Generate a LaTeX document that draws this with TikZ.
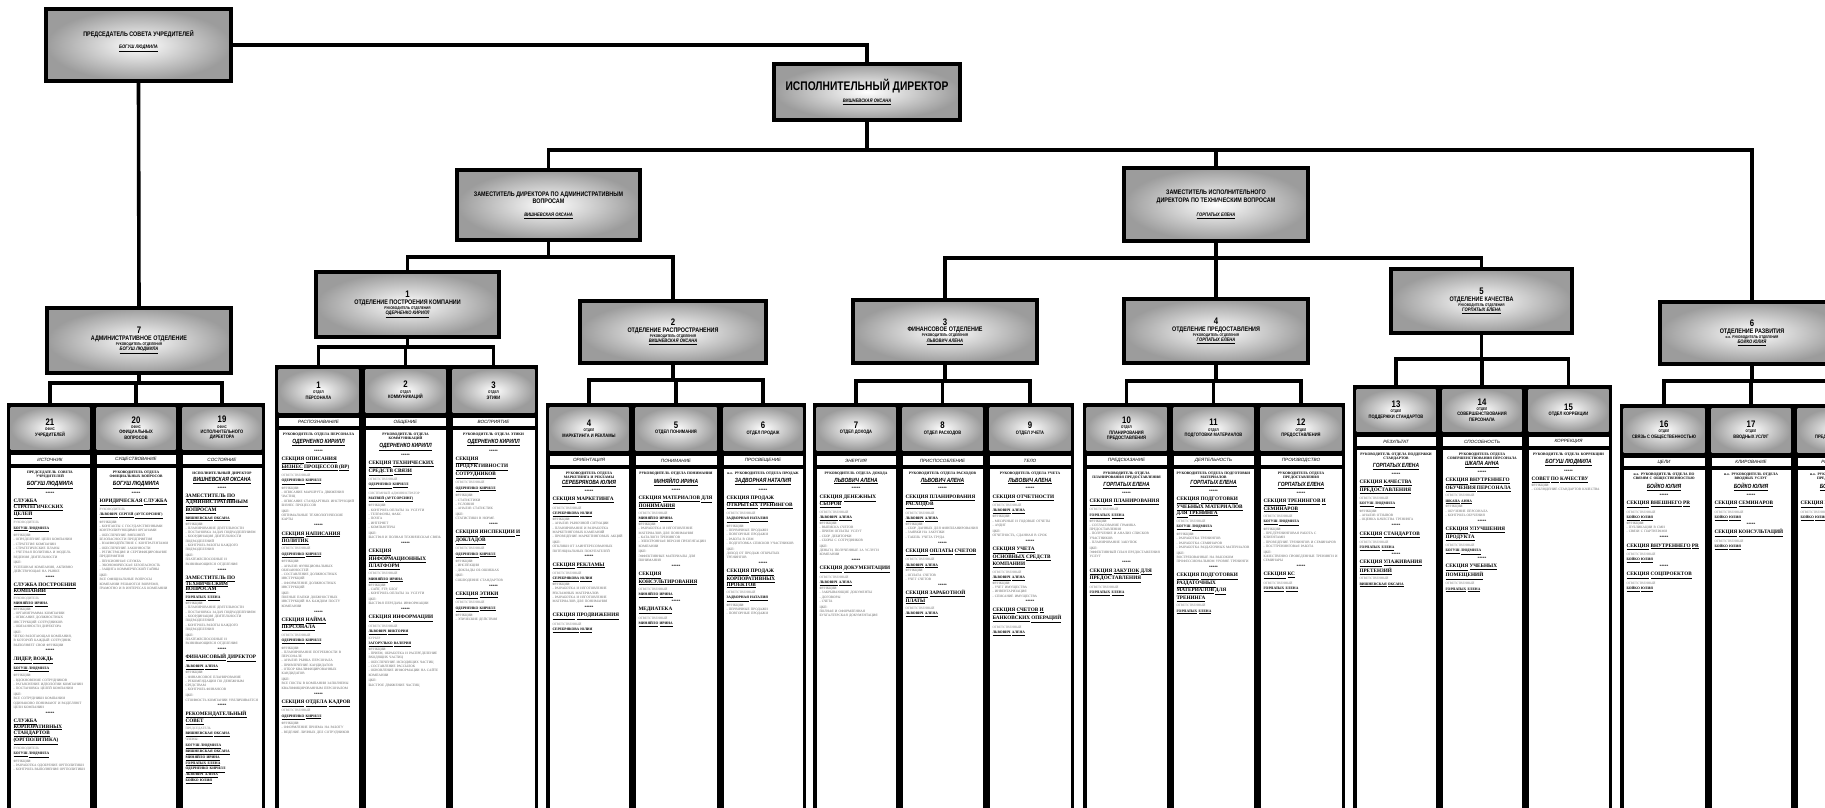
\documentclass[tikz,border=0pt]{standalone}
\usepackage{fontspec}
\setmainfont{Liberation Serif}
\newfontfamily\hdfont[FakeStretch=0.82]{Liberation Sans}
\newfontfamily\lbfont{Liberation Sans}
\usetikzlibrary{calc}

\tikzstyle{bevel} = [rectangle, inner sep=0pt, align=center, inner color=white, outer color=gray!78, font=\hdfont\bfseries\fontsize{4.5}{5.4}\selectfont]
\tikzstyle{boss} = [bevel, draw=black, line width=4.4pt]
\tikzstyle{conn} = [line width=3.6pt, line join=miter]
\tikzstyle{striptext} = [inner sep=0pt, font=\lbfont\itshape\fontsize{4.6}{5}\selectfont]
\tikzstyle{bodytext} = [anchor=north, inner sep=0pt, align=left, font=\bfseries\fontsize{3.6}{4.3}\selectfont]

% underline word by word, so that long titles can break
\def\ulend{\ULEND}
\def\ulendmac{\ulend}
\def\uline#1{\ulwa#1 \ulend\relax}
\def\ulwa#1 #2\relax{\underline{#1}\ulnext#2\relax}
\def\ulnext#1\relax{\def\ultmp{#1}\ifx\ultmp\ulendmac\else\ \ulwa#1\relax\fi}

% header texts
\newcommand{\bignum}[1]{{\fontsize{9.5}{10}\selectfont #1}}
\newcommand{\otd}[1]{{\fontsize{3.8}{4.4}\selectfont #1}}
\newcommand{\dtx}[1]{{\fontsize{4.9}{5.6}\selectfont #1}}
\newcommand{\divtxt}[1]{{\fontsize{6.6}{7.6}\selectfont #1}}
\newcommand{\nm}[1]{{\itshape\fontsize{5}{6}\selectfont\underline{#1}}}
% body texts
\newcommand{\bnm}[1]{{\hdfont\itshape\fontsize{6}{6.8}\selectfont\underline{#1}}}
\newcommand{\chief}[2]{{\centering #1\par\vspace{1.5pt}\bnm{#2}\par\vspace{2.5pt}*****\par}}
\newcommand{\sekt}[1]{\vspace{2.5pt}{\fontsize{5.2}{5.8}\selectfont\uline{#1}\par}\vspace{1.5pt}}
\newcommand{\who}[2]{{\mdseries\color{gray}\fontsize{3.3}{4.1}\selectfont #1\par}\vspace{1pt}{\fontsize{3.6}{4.3}\selectfont\uline{#2}\par}\vspace{1.5pt}}
\newcommand{\fn}[1]{{\mdseries\color{gray!80!black}\fontsize{3.4}{4.3}\selectfont #1\par}\vspace{1.5pt}}
\newcommand{\starsep}{{\centering *****\par}}

% one department column: name, left, right, top, head bottom, strip bottom, head, strip, body
\newcommand{\dept}[9]{%
  \pgfmathsetmacro\dw{#3-#2-7}\pgfmathsetmacro\dh{#5-#4-7}\pgfmathsetmacro\tw{#3-#2-13}%
  \fill[black] (#2,#4) rectangle (#3,830);
  \node[bevel, minimum width=\dw pt, minimum height=\dh pt] (#1) at ({(#2+#3)/2},{(#4+#5+1)/2}) {#7};
  \fill[white] ({#2+3.5},{#5+3}) rectangle ({#3-3.5},{#6-2});
  \node[striptext] at ({(#2+#3)/2},{(#5+#6+1)/2}) {#8};
  \fill[white] ({#2+3.5},{#6+1.5}) rectangle ({#3-3.5},830);
  \node[bodytext, text width=\tw pt] at ({(#2+#3)/2},{#6+5}) {#9};
}

\begin{document}
\begin{tikzpicture}[x=1pt, y=-1pt]
\useasboundingbox[fill=white] (0,0) rectangle (1825,808);

% top of the board
\node[boss, minimum width=185pt, minimum height=72pt] (chair) at (138.5,45) {\divtxt{ПРЕДСЕДАТЕЛЬ СОВЕТА УЧРЕДИТЕЛЕЙ}\\[7pt]\nm{БОГУШ ЛЮДМИЛА}\\[6pt]};
\node[boss, minimum width=186pt, minimum height=56pt] (exec) at (867,92) {{\fontsize{12.5}{14}\selectfont ИСПОЛНИТЕЛЬНЫЙ ДИРЕКТОР}\\[5pt]\nm{ВИШНЕВСКАЯ ОКСАНА}};
\node[boss, minimum width=183pt, minimum height=70pt] (dep1) at (548.5,205) {\divtxt{ЗАМЕСТИТЕЛЬ ДИРЕКТОРА ПО АДМИНИСТРАТИВНЫМ}\\\divtxt{ВОПРОСАМ}\\[8pt]\nm{ВИШНЕВСКАЯ ОКСАНА}};
\node[boss, minimum width=184pt, minimum height=73pt] (dep2) at (1216,204.5) {\divtxt{ЗАМЕСТИТЕЛЬ ИСПОЛНИТЕЛЬНОГО}\\[2pt]\divtxt{ДИРЕКТОРА ПО ТЕХНИЧЕСКИМ ВОПРОСАМ}\\[9pt]\nm{ГОРПАТЫХ ЕЛЕНА}};

% divisions
\node[boss, minimum width=184pt, minimum height=65pt] (d7) at (139,340.5) {\bignum{7}\\[1pt]\divtxt{АДМИНИСТРАТИВНОЕ ОТДЕЛЕНИЕ}\\\otd{РУКОВОДИТЕЛЬ ОТДЕЛЕНИЯ}\\\nm{БОГУШ ЛЮДМИЛА}};
\node[boss, minimum width=183pt, minimum height=65pt] (d1) at (407.5,304.5) {\bignum{1}\\[1pt]\divtxt{ОТДЕЛЕНИЕ ПОСТРОЕНИЯ КОМПАНИИ}\\\otd{РУКОВОДИТЕЛЬ ОТДЕЛЕНИЯ}\\\nm{ОДЕРНЕНКО КИРИЛЛ}};
\node[boss, minimum width=186pt, minimum height=62pt] (d2) at (673,332) {\bignum{2}\\[1pt]\divtxt{ОТДЕЛЕНИЕ РАСПРОСТРАНЕНИЯ}\\\otd{РУКОВОДИТЕЛЬ ОТДЕЛЕНИЯ}\\\nm{ВИШНЕВСКАЯ ОКСАНА}};
\node[boss, minimum width=184pt, minimum height=63pt] (d3) at (945,331.5) {\bignum{3}\\[1pt]\divtxt{ФИНАНСОВОЕ ОТДЕЛЕНИЕ}\\\otd{РУКОВОДИТЕЛЬ ОТДЕЛЕНИЯ}\\\nm{ЛЬВОВИЧ АЛЕНА}};
\node[boss, minimum width=184pt, minimum height=64pt] (d4) at (1216,331) {\bignum{4}\\[1pt]\divtxt{ОТДЕЛЕНИЕ ПРЕДОСТАВЛЕНИЯ}\\\otd{РУКОВОДИТЕЛЬ ОТДЕЛЕНИЯ}\\\nm{ГОРПАТЫХ ЕЛЕНА}};
\node[boss, minimum width=181pt, minimum height=64pt] (d5) at (1481.5,301) {\bignum{5}\\[1pt]\divtxt{ОТДЕЛЕНИЕ КАЧЕСТВА}\\\otd{РУКОВОДИТЕЛЬ ОТДЕЛЕНИЯ}\\\nm{ГОРПАТЫХ ЕЛЕНА}};
\node[boss, minimum width=184pt, minimum height=62pt] (d6) at (1752,333) {\bignum{6}\\[1pt]\divtxt{ОТДЕЛЕНИЕ РАЗВИТИЯ}\\\otd{и.о. РУКОВОДИТЕЛЬ ОТДЕЛЕНИЯ}\\\nm{БОЙКО ЮЛИЯ}};

% departments of division 7
\dept{h21}{7}{93}{403}{452}{466}{\bignum{21}\\\otd{ОФИС}\\\dtx{УЧРЕДИТЕЛЕЙ}}{ИСТОЧНИК}{%
\chief{ПРЕДСЕДАТЕЛЬ СОВЕТА УЧРЕДИТЕЛЕЙ}{БОГУШ ЛЮДМИЛА}
\sekt{СЛУЖБА СТРАТЕГИЧЕСКИХ ЦЕЛЕЙ}
\who{РУКОВОДИТЕЛЬ}{БОГУШ ЛЮДМИЛА}
\fn{ФУНКЦИИ:\\- ОПРЕДЕЛЕНИЕ ЦЕЛИ КОМПАНИИ\\- СТРАТЕГИЯ КОМПАНИИ\\- СТРАТЕГИЧЕСКИЕ ПЛАНЫ\\- УЧЕТНАЯ ПОЛИТИКА И МОДЕЛЬ ВЕДЕНИЯ ДЕЯТЕЛЬНОСТИ}
\fn{ЦКП:\\УСПЕШНАЯ КОМПАНИЯ, АКТИВНО ДЕЙСТВУЮЩАЯ НА РЫНКЕ}
\starsep
\sekt{СЛУЖБА ПОСТРОЕНИЯ КОМПАНИИ}
\who{РУКОВОДИТЕЛЬ}{МИНЯЙЛО ИРИНА}
\fn{ФУНКЦИИ:\\- ОРГАНИГРАММА КОМПАНИИ\\- ОПИСАНИЕ ДОЛЖНОСТНЫХ ИНСТРУКЦИЙ СОТРУДНИКОВ\\- ОБЯЗАННОСТИ ДИРЕКТОРА}
\fn{ЦКП:\\ЧЕТКО РАБОТАЮЩАЯ КОМПАНИЯ, В КОТОРОЙ КАЖДЫЙ СОТРУДНИК ВЫПОЛНЯЕТ СВОИ ФУНКЦИИ}
\starsep
\sekt{ЛИДЕР, ВОЖДЬ}
\who{}{БОГУШ ЛЮДМИЛА}
\fn{ФУНКЦИИ:\\- ВДОХНОВЕНИЕ СОТРУДНИКОВ\\- РАЗЪЯСНЕНИЕ ИДЕОЛОГИИ КОМПАНИИ\\- ПОСТАНОВКА ЦЕЛЕЙ КОМПАНИИ}
\fn{ЦКП:\\ВСЕ СОТРУДНИКИ КОМПАНИИ ОДИНАКОВО ПОНИМАЮТ И РАЗДЕЛЯЮТ ЦЕЛИ КОМПАНИИ}
\starsep
\sekt{СЛУЖБА КОРПОРАТИВНЫХ СТАНДАРТОВ (ОРГПОЛИТИКА)}
\who{РУКОВОДИТЕЛЬ}{БОГУШ ЛЮДМИЛА}
\fn{ФУНКЦИИ:\\- РАЗРАБОТКА ОДОБРЕНИЕ ОРГПОЛИТИКИ\\- КОНТРОЛЬ ВЫПОЛНЕНИЯ ОРГПОЛИТИКИ}}
\dept{h20}{93}{179}{403}{452}{466}{\bignum{20}\\\otd{ОФИС}\\\dtx{ОФИЦИАЛЬНЫХ}\\\dtx{ВОПРОСОВ}}{СУЩЕСТВОВАНИЕ}{%
\chief{РУКОВОДИТЕЛЬ ОТДЕЛА ОФИЦИАЛЬНЫХ ВОПРОСОВ}{БОГУШ ЛЮДМИЛА}
\sekt{ЮРИДИЧЕСКАЯ СЛУЖБА}
\who{РУКОВОДИТЕЛЬ}{ЛЬВОВИЧ СЕРГЕЙ (АУТСОРСИНГ)}
\fn{ФУНКЦИИ:\\- КОНТАКТЫ С ГОСУДАРСТВЕННЫМИ КОНТРОЛИРУЮЩИМИ ОРГАНАМИ\\- ОБЕСПЕЧЕНИЕ ВНЕШНЕЙ БЕЗОПАСНОСТИ ПРЕДПРИЯТИЯ\\- ВЗАИМОДЕЙСТВИЕ С КОНТРАГЕНТАМИ\\- ОБЕСПЕЧЕНИЕ ЗАКОННОСТИ\\- РЕГИСТРАЦИЯ И СЕРТИФИЦИРОВАНИЕ ПРЕДПРИЯТИЯ\\- ПЕНСИОННАЯ СЛУЖБА\\- ЭКОНОМИЧЕСКАЯ БЕЗОПАСНОСТЬ\\- ЗАЩИТА КОММЕРЧЕСКОЙ ТАЙНЫ}
\fn{ЦКП:\\ВСЕ ОФИЦИАЛЬНЫЕ ВОПРОСЫ КОМПАНИИ РЕШАЮТСЯ ВОВРЕМЯ, ГРАМОТНО И В ИНТЕРЕСАХ КОМПАНИИ}}
\dept{h19}{179}{265}{403}{452}{466}{\bignum{19}\\\otd{ОФИС}\\\dtx{ИСПОЛНИТЕЛЬНОГО}\\\dtx{ДИРЕКТОРА}}{СОСТОЯНИЕ}{%
\chief{ИСПОЛНИТЕЛЬНЫЙ ДИРЕКТОР}{ВИШНЕВСКАЯ ОКСАНА}
\sekt{ЗАМЕСТИТЕЛЬ ПО АДМИНИСТРАТИВНЫМ ВОПРОСАМ}
\who{}{ВИШНЕВСКАЯ ОКСАНА}
\fn{ФУНКЦИИ:\\- ПЛАНИРОВАНИЕ ДЕЯТЕЛЬНОСТИ\\- ПОСТАНОВКА ЗАДАЧ ПОДРАЗДЕЛЕНИЯМ\\- КООРДИНАЦИЯ ДЕЯТЕЛЬНОСТИ ПОДРАЗДЕЛЕНИЙ\\- КОНТРОЛЬ РАБОТЫ КАЖДОГО ПОДРАЗДЕЛЕНИЯ}
\fn{ЦКП:\\ПЛАТЕЖЕСПОСОБНЫЕ И РАЗВИВАЮЩИЕСЯ ОТДЕЛЕНИЯ}
\starsep
\sekt{ЗАМЕСТИТЕЛЬ ПО ТЕХНИЧЕСКИМ ВОПРОСАМ}
\who{}{ГОРПАТЫХ ЕЛЕНА}
\fn{ФУНКЦИИ:\\- ПЛАНИРОВАНИЕ ДЕЯТЕЛЬНОСТИ\\- ПОСТАНОВКА ЗАДАЧ ПОДРАЗДЕЛЕНИЯМ\\- КООРДИНАЦИЯ ДЕЯТЕЛЬНОСТИ ПОДРАЗДЕЛЕНИЙ\\- КОНТРОЛЬ РАБОТЫ КАЖДОГО ПОДРАЗДЕЛЕНИЯ}
\fn{ЦКП:\\ПЛАТЕЖЕСПОСОБНЫЕ И РАЗВИВАЮЩИЕСЯ ОТДЕЛЕНИЯ}
\starsep
\sekt{ФИНАНСОВЫЙ ДИРЕКТОР}
\who{}{ЛЬВОВИЧ АЛЕНА}
\fn{ФУНКЦИИ:\\- ФИНАНСОВОЕ ПЛАНИРОВАНИЕ\\- РЕКОМЕНДАЦИИ ПО ДЕНЕЖНЫМ СРЕДСТВАМ\\- КОНТРОЛЬ ФИНАНСОВ}
\fn{ЦКП:\\СТОИМОСТЬ КОМПАНИИ УВЕЛИЧИВАЕТСЯ}
\starsep
\sekt{РЕКОМЕНДАТЕЛЬНЫЙ СОВЕТ}
\who{ПРЕДСЕДАТЕЛЬ}{ВИШНЕВСКАЯ ОКСАНА}
\fn{ЧЛЕНЫ:}
{\fontsize{3.6}{4.4}\selectfont\underline{БОГУШ ЛЮДМИЛА}\\\underline{ВИШНЕВСКАЯ ОКСАНА}\\\underline{МИНЯЙЛО ИРИНА}\\\underline{ГОРПАТЫХ ЕЛЕНА}\\\underline{ОДЕРНЕНКО КИРИЛЛ}\\\underline{ЛЬВОВИЧ АЛЕНА}\\\underline{БОЙКО ЮЛИЯ}\par}}

% departments of division 1
\dept{h1}{275}{362}{365}{415}{428}{\bignum{1}\\\otd{ОТДЕЛ}\\\dtx{ПЕРСОНАЛА}}{РАСПОЗНАВАНИЕ}{%
\chief{РУКОВОДИТЕЛЬ ОТДЕЛА ПЕРСОНАЛА}{ОДЕРНЕНКО КИРИЛЛ}
\sekt{СЕКЦИЯ ОПИСАНИЯ БИЗНЕС ПРОЦЕССОВ (BP)}
\who{ОТВЕТСТВЕННЫЙ}{ОДЕРНЕНКО КИРИЛЛ}
\fn{ФУНКЦИИ:\\- ОПИСАНИЕ МАРШРУТА ДВИЖЕНИЯ ЧАСТИЦ\\- ОПИСАНИЕ СТАНДАРТНЫХ ИНСТРУКЦИЙ БИЗНЕС ПРОЦЕССОВ}
\fn{ЦКП:\\ОПТИМАЛЬНЫЕ ТЕХНОЛОГИЧЕСКИЕ КАРТЫ}
\starsep
\sekt{СЕКЦИЯ НАПИСАНИЯ ПОЛИТИК}
\who{ОТВЕТСТВЕННЫЙ}{ОДЕРНЕНКО КИРИЛЛ}
\fn{ФУНКЦИИ:\\- АНАЛИЗ ФУНКЦИОНАЛЬНЫХ ОБЯЗАННОСТЕЙ\\- СОСТАВЛЕНИЕ ДОЛЖНОСТНЫХ ИНСТРУКЦИЙ\\- ОФОРМЛЕНИЕ ДОЛЖНОСТНЫХ ИНСТРУКЦИЙ}
\fn{ЦКП:\\ПОЛНЫЕ ПАПКИ ДОЛЖНОСТНЫХ ИНСТРУКЦИЙ НА КАЖДОМ ПОСТУ КОМПАНИИ}
\starsep
\sekt{СЕКЦИЯ НАЙМА ПЕРСОНАЛА}
\who{ОТВЕТСТВЕННЫЙ}{ОДЕРНЕНКО КИРИЛЛ}
\fn{ФУНКЦИИ:\\- ПЛАНИРОВАНИЕ ПОТРЕБНОСТИ В ПЕРСОНАЛЕ\\- АНАЛИЗ РЫНКА ПЕРСОНАЛА\\- ПРИВЛЕЧЕНИЕ КАНДИДАТОВ\\- ОТБОР КВАЛИФИЦИРОВАННЫХ КАНДИДАТОВ}
\fn{ЦКП:\\ВСЕ ПОСТЫ В КОМПАНИИ ЗАПОЛНЕНЫ КВАЛИФИЦИРОВАННЫМ ПЕРСОНАЛОМ}
\starsep
\sekt{СЕКЦИЯ ОТДЕЛА КАДРОВ}
\who{ОТВЕТСТВЕННЫЙ}{ОДЕРНЕНКО КИРИЛЛ}
\fn{ФУНКЦИИ:\\- ОФОРМЛЕНИЕ ПРИЕМА НА РАБОТУ\\- ВЕДЕНИЕ ЛИЧНЫХ ДЕЛ СОТРУДНИКОВ}}
\dept{h2}{362}{449}{365}{415}{428}{\bignum{2}\\\otd{ОТДЕЛ}\\\dtx{КОММУНИКАЦИЙ}}{ОБЩЕНИЕ}{%
\chief{РУКОВОДИТЕЛЬ ОТДЕЛА КОММУНИКАЦИЙ}{ОДЕРНЕНКО КИРИЛЛ}
\sekt{СЕКЦИЯ ТЕХНИЧЕСКИХ СРЕДСТВ СВЯЗИ}
\who{ОТВЕТСТВЕННЫЙ}{ОДЕРНЕНКО КИРИЛЛ}
\who{СИСТЕМНЫЙ АДМИНИСТРАТОР}{МАТВЕЙ (АУТСОРСИНГ)}
\fn{ФУНКЦИИ:\\- КОНТРОЛЬ ОПЛАТЫ ЗА УСЛУГИ\\- ТЕЛЕФОНЫ, ФАКС\\- ПОЧТА\\- ИНТЕРНЕТ\\- КОМПЬЮТЕРЫ}
\fn{ЦКП:\\БЫСТРАЯ И ПОЛНАЯ ТЕХНИЧЕСКАЯ СВЯЗЬ}
\starsep
\sekt{СЕКЦИЯ ИНФОРМАЦИОННЫХ ПЛАТФОРМ}
\who{ОТВЕТСТВЕННЫЙ}{МИНЯЙЛО ИРИНА}
\fn{ФУНКЦИИ:\\- САЙТ, FTP, БЛОГ\\- КОНТРОЛЬ ОПЛАТЫ ЗА УСЛУГИ}
\fn{ЦКП:\\БЫСТРАЯ ПЕРЕДАЧА ИНФОРМАЦИИ}
\starsep
\sekt{СЕКЦИЯ ИНФОРМАЦИИ}
\who{ОТВЕТСТВЕННЫЙ}{ЛЬВОВИЧ ВИКТОРИЯ}
\who{КУРЬЕР}{ЗАГОРУЛЬКО ВАЛЕРИЯ}
\fn{ФУНКЦИИ:\\- ПРИЕМ, ОБРАБОТКА И РАСПРЕДЕЛЕНИЕ ВХОДЯЩИХ ЧАСТИЦ\\- ОБЕСПЕЧЕНИЕ ИСХОДЯЩИХ ЧАСТИЦ\\- СОСТАВЛЕНИЕ РАССЫЛОК\\- ОБНОВЛЕНИЕ ИНФОРМАЦИИ НА САЙТЕ КОМПАНИИ}
\fn{ЦКП:\\БЫСТРОЕ ДВИЖЕНИЕ ЧАСТИЦ}}
\dept{h3}{449}{538}{365}{415}{428}{\bignum{3}\\\otd{ОТДЕЛ}\\\dtx{ЭТИКИ}}{ВОСПРИЯТИЕ}{%
\chief{РУКОВОДИТЕЛЬ ОТДЕЛА ЭТИКИ}{ОДЕРНЕНКО КИРИЛЛ}
\sekt{СЕКЦИЯ ПРОДУКТИВНОСТИ СОТРУДНИКОВ}
\who{ОТВЕТСТВЕННЫЙ}{ОДЕРНЕНКО КИРИЛЛ}
\fn{ФУНКЦИИ:\\- СТАТИСТИКИ\\- УСЛОВИЯ\\- АНАЛИЗ СТАТИСТИК}
\fn{ЦКП:\\СТАТИСТИКИ В НОРМЕ}
\starsep
\sekt{СЕКЦИЯ ИНСПЕКЦИИ И ДОКЛАДОВ}
\who{ОТВЕТСТВЕННЫЙ}{ОДЕРНЕНКО КИРИЛЛ}
\fn{ФУНКЦИИ:\\- ИНСПЕКЦИИ\\- ДОКЛАДЫ ОБ ОШИБКАХ}
\fn{ЦКП:\\СОБЛЮДЕНИЕ СТАНДАРТОВ}
\starsep
\sekt{СЕКЦИЯ ЭТИКИ}
\who{ОТВЕТСТВЕННЫЙ}{ОДЕРНЕНКО КИРИЛЛ}
\fn{ФУНКЦИИ:\\- ЭТИЧЕСКИЕ ДЕЙСТВИЯ}}

% departments of division 2
\dept{h4}{546}{632}{403}{453}{467}{\bignum{4}\\\otd{ОТДЕЛ}\\\dtx{МАРКЕТИНГА И РЕКЛАМЫ}}{ОРИЕНТАЦИЯ}{%
\chief{РУКОВОДИТЕЛЬ ОТДЕЛА МАРКЕТИНГА И РЕКЛАМЫ}{СЕРЕБРЯКОВА ЮЛИЯ}
\sekt{СЕКЦИЯ МАРКЕТИНГА}
\who{ОТВЕТСТВЕННЫЙ}{СЕРЕБРЯКОВА ЮЛИЯ}
\fn{ФУНКЦИИ:\\- АНАЛИЗ РЫНОЧНОЙ СИТУАЦИИ\\- ПЛАНИРОВАНИЕ И РАЗРАБОТКА МАРКЕТИНГОВЫХ КАМПАНИЙ\\- ПРОВЕДЕНИЕ МАРКЕТИНГОВЫХ АКЦИЙ}
\fn{ЦКП:\\ОТКЛИКИ ОТ ЗАИНТЕРЕСОВАННЫХ ПОТЕНЦИАЛЬНЫХ ПОКУПАТЕЛЕЙ}
\starsep
\sekt{СЕКЦИЯ РЕКЛАМЫ}
\who{ОТВЕТСТВЕННЫЙ}{СЕРЕБРЯКОВА ЮЛИЯ}
\fn{ФУНКЦИИ:\\- РАЗРАБОТКА И ИЗГОТОВЛЕНИЕ РЕКЛАМНЫХ МАТЕРИАЛОВ\\- РАЗРАБОТКА И ИЗГОТОВЛЕНИЕ МАТЕРИАЛОВ ДЛЯ ПОНИМАНИЯ}
\starsep
\sekt{СЕКЦИЯ ПРОДВИЖЕНИЯ}
\who{ОТВЕТСТВЕННЫЙ}{СЕРЕБРЯКОВА ЮЛИЯ}}
\dept{h5}{632}{720}{403}{453}{467}{\bignum{5}\\\dtx{ОТДЕЛ ПОНИМАНИЯ}}{ПОНИМАНИЕ}{%
\chief{РУКОВОДИТЕЛЬ ОТДЕЛА ПОНИМАНИЯ}{МИНЯЙЛО ИРИНА}
\sekt{СЕКЦИЯ МАТЕРИАЛОВ ДЛЯ ПОНИМАНИЯ}
\who{ОТВЕТСТВЕННЫЙ}{МИНЯЙЛО ИРИНА}
\fn{ФУНКЦИИ:\\- РАЗРАБОТКА И ИЗГОТОВЛЕНИЕ МАТЕРИАЛОВ ДЛЯ ПОНИМАНИЯ\\- КАТАЛОГИ ТРЕНИНГОВ\\- ЭЛЕКТРОННАЯ ВЕРСИЯ ПРЕЗЕНТАЦИИ КОМПАНИИ}
\fn{ЦКП:\\ЭФФЕКТИВНЫЕ МАТЕРИАЛЫ ДЛЯ ПОНИМАНИЯ}
\starsep
\sekt{СЕКЦИЯ КОНСУЛЬТИРОВАНИЯ}
\who{ОТВЕТСТВЕННЫЙ}{МИНЯЙЛО ИРИНА}
\starsep
\sekt{МЕДИАТЕКА}
\who{ОТВЕТСТВЕННЫЙ}{МИНЯЙЛО ИРИНА}}
\dept{h6}{720}{806}{403}{453}{467}{\bignum{6}\\\dtx{ОТДЕЛ ПРОДАЖ}}{ПРОСВЕЩЕНИЕ}{%
\chief{и.о. РУКОВОДИТЕЛЬ ОТДЕЛА ПРОДАЖ}{ЗАДВОРНАЯ НАТАЛИЯ}
\sekt{СЕКЦИЯ ПРОДАЖ ОТКРЫТЫХ ТРЕНИНГОВ}
\who{ОТВЕТСТВЕННЫЙ}{ЗАДВОРНАЯ НАТАЛИЯ}
\fn{ФУНКЦИИ:\\- ПЕРВИЧНЫЕ ПРОДАЖИ\\- ПОВТОРНЫЕ ПРОДАЖИ\\- РАБОТА В CRM\\- ПОДГОТОВКА СПИСКОВ УЧАСТНИКОВ}
\fn{ЦКП:\\ДОХОД ОТ ПРОДАЖ ОТКРЫТЫХ ТРЕНИНГОВ}
\starsep
\sekt{СЕКЦИЯ ПРОДАЖ КОРПОРАТИВНЫХ ПРОЕКТОВ}
\who{ОТВЕТСТВЕННЫЙ}{ЗАДВОРНАЯ НАТАЛИЯ}
\fn{ФУНКЦИИ:\\- ПЕРВИЧНЫЕ ПРОДАЖИ\\- ПОВТОРНЫЕ ПРОДАЖИ}}

% departments of division 3
\dept{h7}{813}{899}{403}{453}{467}{\bignum{7}\\\dtx{ОТДЕЛ ДОХОДА}}{ЭНЕРГИЯ}{%
\chief{РУКОВОДИТЕЛЬ ОТДЕЛА ДОХОДА}{ЛЬВОВИЧ АЛЕНА}
\sekt{СЕКЦИЯ ДЕНЕЖНЫХ СБОРОВ}
\who{ОТВЕТСТВЕННЫЙ}{ЛЬВОВИЧ АЛЕНА}
\fn{ФУНКЦИИ:\\- ВЫПИСКА СЧЕТОВ\\- ПРИЕМ ОПЛАТЫ УСЛУГ\\- СБОР ДЕБИТОРКИ\\- СБОРЫ С СОТРУДНИКОВ}
\fn{ЦКП:\\ДЕНЬГИ, ПОЛУЧЕННЫЕ ЗА УСЛУГИ КОМПАНИИ}
\starsep
\sekt{СЕКЦИЯ ДОКУМЕНТАЦИИ}
\who{ОТВЕТСТВЕННЫЙ}{ЛЬВОВИЧ АЛЕНА}
\fn{ФУНКЦИИ:\\- ЗАКРЫВАЮЩИЕ ДОКУМЕНТЫ\\- ДОГОВОРЫ\\- СЧЕТА}
\fn{ЦКП:\\ПОЛНАЯ И ОФОРМЛЕННАЯ БУХГАЛТЕРСКАЯ ДОКУМЕНТАЦИЯ}}
\dept{h8}{899}{986}{403}{453}{467}{\bignum{8}\\\dtx{ОТДЕЛ РАСХОДОВ}}{ПРИСПОСОБЛЕНИЕ}{%
\chief{РУКОВОДИТЕЛЬ ОТДЕЛА РАСХОДОВ}{ЛЬВОВИЧ АЛЕНА}
\sekt{СЕКЦИЯ ПЛАНИРОВАНИЯ РАСХОДОВ}
\who{ОТВЕТСТВЕННЫЙ}{ЛЬВОВИЧ АЛЕНА}
\fn{ФУНКЦИИ:\\- СБОР ДАННЫХ ДЛЯ ФИНПЛАНИРОВАНИЯ\\- ЗАЯВКИ НА ЗАКУПКИ\\- ТАБЕЛЬ УЧЕТА ТРУДА}
\starsep
\sekt{СЕКЦИЯ ОПЛАТЫ СЧЕТОВ}
\who{ОТВЕТСТВЕННЫЙ}{ЛЬВОВИЧ АЛЕНА}
\fn{ФУНКЦИИ:\\- ОПЛАТА СЧЕТОВ\\- УЧЕТ СЧЕТОВ}
\starsep
\sekt{СЕКЦИЯ ЗАРАБОТНОЙ ПЛАТЫ}
\who{ОТВЕТСТВЕННЫЙ}{ЛЬВОВИЧ АЛЕНА}}
\dept{h9}{986}{1074}{403}{453}{467}{\bignum{9}\\\dtx{ОТДЕЛ УЧЕТА}}{ТЕЛО}{%
\chief{РУКОВОДИТЕЛЬ ОТДЕЛА УЧЕТА}{ЛЬВОВИЧ АЛЕНА}
\sekt{СЕКЦИЯ ОТЧЕТНОСТИ}
\who{ОТВЕТСТВЕННЫЙ}{ЛЬВОВИЧ АЛЕНА}
\fn{ФУНКЦИИ:\\- МЕСЯЧНЫЕ И ГОДОВЫЕ ОТЧЕТЫ\\- АУДИТ}
\fn{ЦКП:\\ОТЧЕТНОСТЬ, СДАННАЯ В СРОК}
\starsep
\sekt{СЕКЦИЯ УЧЕТА ОСНОВНЫХ СРЕДСТВ КОМПАНИИ}
\who{ОТВЕТСТВЕННЫЙ}{ЛЬВОВИЧ АЛЕНА}
\fn{ФУНКЦИИ:\\- УЧЕТ ИМУЩЕСТВА\\- ИНВЕНТАРИЗАЦИЯ\\- СПИСАНИЕ ИМУЩЕСТВА}
\starsep
\sekt{СЕКЦИЯ СЧЕТОВ И БАНКОВСКИХ ОПЕРАЦИЙ}
\who{ОТВЕТСТВЕННЫЙ}{ЛЬВОВИЧ АЛЕНА}}

% departments of division 4
\dept{h10}{1083}{1170}{403}{453}{467}{\bignum{10}\\\otd{ОТДЕЛ}\\\dtx{ПЛАНИРОВАНИЯ}\\\dtx{ПРЕДОСТАВЛЕНИЯ}}{ПРЕДСКАЗАНИЕ}{%
\chief{РУКОВОДИТЕЛЬ ОТДЕЛА ПЛАНИРОВАНИЯ ПРЕДОСТАВЛЕНИЯ}{ГОРПАТЫХ ЕЛЕНА}
\sekt{СЕКЦИЯ ПЛАНИРОВАНИЯ}
\who{ОТВЕТСТВЕННЫЙ}{ГОРПАТЫХ ЕЛЕНА}
\fn{ФУНКЦИИ:\\- СОГЛАСОВАНИЕ ГРАФИКА ПРЕДОСТАВЛЕНИЯ\\- ПОЛУЧЕНИЕ И АНАЛИЗ СПИСКОВ УЧАСТНИКОВ\\- ПЛАНИРОВАНИЕ ЗАКУПОК}
\fn{ЦКП:\\ЭФФЕКТИВНЫЙ ПЛАН ПРЕДОСТАВЛЕНИЯ УСЛУГ}
\starsep
\sekt{СЕКЦИЯ ЗАКУПОК ДЛЯ ПРЕДОСТАВЛЕНИЯ}
\who{ОТВЕТСТВЕННЫЙ}{ГОРПАТЫХ ЕЛЕНА}}
\dept{h11}{1170}{1257}{403}{453}{467}{\bignum{11}\\\otd{ОТДЕЛ}\\\dtx{ПОДГОТОВКИ МАТЕРИАЛОВ}}{ДЕЯТЕЛЬНОСТЬ}{%
\chief{РУКОВОДИТЕЛЬ ОТДЕЛА ПОДГОТОВКИ МАТЕРИАЛОВ}{ГОРПАТЫХ ЕЛЕНА}
\sekt{СЕКЦИЯ ПОДГОТОВКИ УЧЕБНЫХ МАТЕРИАЛОВ ДЛЯ ТРЕНИНГА}
\who{ОТВЕТСТВЕННЫЙ}{БОГУШ ЛЮДМИЛА}
\fn{ФУНКЦИИ:\\- РАЗРАБОТКА ТРЕНИНГОВ\\- РАЗРАБОТКА СЕМИНАРОВ\\- РАЗРАБОТКА РАЗДАТОЧНЫХ МАТЕРИАЛОВ}
\fn{ЦКП:\\ВОСТРЕБОВАННЫЕ НА ВЫСОКОМ ПРОФЕССИОНАЛЬНОМ УРОВНЕ ТРЕНИНГИ}
\starsep
\sekt{СЕКЦИЯ ПОДГОТОВКИ РАЗДАТОЧНЫХ МАТЕРИАЛОВ ДЛЯ ТРЕНИНГА}
\who{ОТВЕТСТВЕННЫЙ}{ГОРПАТЫХ ЕЛЕНА}}
\dept{h12}{1257}{1345}{403}{453}{467}{\bignum{12}\\\otd{ОТДЕЛ}\\\dtx{ПРЕДОСТАВЛЕНИЯ}}{ПРОИЗВОДСТВО}{%
\chief{РУКОВОДИТЕЛЬ ОТДЕЛА ПРЕДОСТАВЛЕНИЯ}{ГОРПАТЫХ ЕЛЕНА}
\sekt{СЕКЦИЯ ТРЕНИНГОВ И СЕМИНАРОВ}
\who{ОТВЕТСТВЕННЫЙ}{БОГУШ ЛЮДМИЛА}
\fn{ФУНКЦИИ:\\- ПРЕДТРЕНИНГОВАЯ РАБОТА С КЛИЕНТАМИ\\- ПРОВЕДЕНИЕ ТРЕНИНГОВ И СЕМИНАРОВ\\- ПОСТТРЕНИНГОВАЯ РАБОТА}
\fn{ЦКП:\\КАЧЕСТВЕННО ПРОВЕДЕННЫЕ ТРЕНИНГИ И СЕМИНАРЫ}
\starsep
\sekt{СЕКЦИЯ КС}
\who{ОТВЕТСТВЕННЫЙ}{ГОРПАТЫХ ЕЛЕНА}}

% departments of division 5
\dept{h13}{1353}{1439}{385}{434}{448}{\bignum{13}\\\otd{ОТДЕЛ}\\\dtx{ПОДДЕРЖКИ СТАНДАРТОВ}}{РЕЗУЛЬТАТ}{%
\chief{РУКОВОДИТЕЛЬ ОТДЕЛА ПОДДЕРЖКИ СТАНДАРТОВ}{ГОРПАТЫХ ЕЛЕНА}
\sekt{СЕКЦИЯ КАЧЕСТВА ПРЕДОСТАВЛЕНИЯ}
\who{ОТВЕТСТВЕННЫЙ}{БОГУШ ЛЮДМИЛА}
\fn{ФУНКЦИИ:\\- АНАЛИЗ ОТЗЫВОВ\\- ОЦЕНКА КАЧЕСТВА ТРЕНИНГА}
\starsep
\sekt{СЕКЦИЯ СТАНДАРТОВ}
\who{ОТВЕТСТВЕННЫЙ}{ГОРПАТЫХ ЕЛЕНА}
\starsep
\sekt{СЕКЦИЯ УЛАЖИВАНИЯ ПРЕТЕНЗИЙ}
\who{ОТВЕТСТВЕННЫЙ}{ВИШНЕВСКАЯ ОКСАНА}}
\dept{h14}{1439}{1525}{385}{434}{448}{\bignum{14}\\\otd{ОТДЕЛ}\\\dtx{СОВЕРШЕНСТВОВАНИЯ}\\\dtx{ПЕРСОНАЛА}}{СПОСОБНОСТЬ}{%
\chief{РУКОВОДИТЕЛЬ ОТДЕЛА СОВЕРШЕНСТВОВАНИЯ ПЕРСОНАЛА}{ШКАПА АННА}
\sekt{СЕКЦИЯ ВНУТРЕННЕГО ОБУЧЕНИЯ ПЕРСОНАЛА}
\who{ОТВЕТСТВЕННЫЙ}{ШКАПА АННА}
\fn{ФУНКЦИИ:\\- ОБУЧЕНИЕ ПЕРСОНАЛА\\- КОНТРОЛЬ ОБУЧЕНИЯ}
\starsep
\sekt{СЕКЦИЯ УЛУЧШЕНИЯ ПРОДУКТА}
\who{ОТВЕТСТВЕННЫЙ}{БОГУШ ЛЮДМИЛА}
\starsep
\sekt{СЕКЦИЯ УЧЕБНЫХ ПОМЕЩЕНИЙ}
\who{ОТВЕТСТВЕННЫЙ}{ГОРПАТЫХ ЕЛЕНА}}
\dept{h15}{1525}{1612}{385}{434}{448}{\bignum{15}\\\dtx{ОТДЕЛ КОРРЕКЦИИ}}{КОРРЕКЦИЯ}{%
\chief{РУКОВОДИТЕЛЬ ОТДЕЛА КОРРЕКЦИИ}{БОГУШ ЛЮДМИЛА}
\sekt{СОВЕТ ПО КАЧЕСТВУ}
\fn{ФУНКЦИИ:\\- СОБЛЮДЕНИЕ СТАНДАРТОВ КАЧЕСТВА}}

% departments of division 6
\dept{h16}{1620}{1708}{404}{455}{468}{\bignum{16}\\\otd{ОТДЕЛ}\\\dtx{СВЯЗЬ С ОБЩЕСТВЕННОСТЬЮ}}{ЦЕЛИ}{%
\chief{и.о. РУКОВОДИТЕЛЬ ОТДЕЛА ПО СВЯЗЯМ С ОБЩЕСТВЕННОСТЬЮ}{БОЙКО ЮЛИЯ}
\sekt{СЕКЦИЯ ВНЕШНЕГО PR}
\who{ОТВЕТСТВЕННЫЙ}{БОЙКО ЮЛИЯ}
\fn{ФУНКЦИИ:\\- ПУБЛИКАЦИИ В СМИ\\- СВЯЗИ С ПАРТНЕРАМИ}
\starsep
\sekt{СЕКЦИЯ ВНУТРЕННЕГО PR}
\who{ОТВЕТСТВЕННЫЙ}{БОЙКО ЮЛИЯ}
\starsep
\sekt{СЕКЦИЯ СОЦПРОЕКТОВ}
\who{ОТВЕТСТВЕННЫЙ}{БОЙКО ЮЛИЯ}}
\dept{h17}{1708}{1794}{404}{455}{468}{\bignum{17}\\\otd{ОТДЕЛ}\\\dtx{ВВОДНЫХ УСЛУГ}}{КЛИРОВАНИЕ}{%
\chief{и.о. РУКОВОДИТЕЛЬ ОТДЕЛА ВВОДНЫХ УСЛУГ}{БОЙКО ЮЛИЯ}
\sekt{СЕКЦИЯ СЕМИНАРОВ}
\who{ОТВЕТСТВЕННЫЙ}{БОЙКО ЮЛИЯ}
\starsep
\sekt{СЕКЦИЯ КОНСУЛЬТАЦИЙ}
\who{ОТВЕТСТВЕННЫЙ}{БОЙКО ЮЛИЯ}}
\dept{h18}{1794}{1880}{404}{455}{468}{\bignum{18}\\\otd{ОТДЕЛ}\\\dtx{ПРЕДСТАВИТЕЛЬСТВ}}{РЕАЛИЗАЦИЯ}{%
\chief{и.о. РУКОВОДИТЕЛЬ ОТДЕЛА ПРЕДСТАВИТЕЛЬСТВ}{БОЙКО ЮЛИЯ}
\sekt{СЕКЦИЯ ПАРТНЕРОВ}
\who{ОТВЕТСТВЕННЫЙ}{БОЙКО ЮЛИЯ}}

% bus levels
\coordinate (bTop) at (0,150);
\coordinate (bAdm) at (0,257);
\coordinate (bTech) at (0,258);
\coordinate (b7) at (0,383);
\coordinate (b1) at (0,347);
\coordinate (b2) at (0,380);
\coordinate (b3) at (0,381);
\coordinate (b4) at (0,381);
\coordinate (b5) at (0,359);
\coordinate (b6) at (0,381);

% connectors
\draw[conn] (chair.east) -| (exec.north);
\draw[conn] (chair.south) -- (d7.north);
\draw[conn] (exec.south) -- (exec.south |- bTop) -| (dep1.north);
\draw[conn] (exec.south |- bTop) -| (dep2.north);
\draw[conn] (exec.south |- bTop) -| (d6.north);
\draw[conn] (dep1.south) -- (dep1.south |- bAdm) -| (d1.north);
\draw[conn] (dep1.south |- bAdm) -| (d2.north);
\draw[conn] (dep2.south) -- (dep2.south |- bTech) -| (d3.north);
\draw[conn] (dep2.south |- bTech) -- (d4.north);
\draw[conn] (dep2.south |- bTech) -| (d5.north);
\draw[conn] (d7.south) -- (d7.south |- b7) -| (h21.north);
\draw[conn] (d7.south |- b7) -| (h20.north);
\draw[conn] (d7.south |- b7) -| (h19.north);
\draw[conn] (d1.south) -- (d1.south |- b1) -| (h1.north);
\draw[conn] (d1.south |- b1) -| (h2.north);
\draw[conn] (d1.south |- b1) -| (h3.north);
\draw[conn] (d2.south) -- (d2.south |- b2) -| (h4.north);
\draw[conn] (d2.south |- b2) -| (h5.north);
\draw[conn] (d2.south |- b2) -| (h6.north);
\draw[conn] (d3.south) -- (d3.south |- b3) -| (h7.north);
\draw[conn] (d3.south |- b3) -| (h8.north);
\draw[conn] (d3.south |- b3) -| (h9.north);
\draw[conn] (d4.south) -- (d4.south |- b4) -| (h10.north);
\draw[conn] (d4.south |- b4) -| (h11.north);
\draw[conn] (d4.south |- b4) -| (h12.north);
\draw[conn] (d5.south) -- (d5.south |- b5) -| (h13.north);
\draw[conn] (d5.south |- b5) -| (h14.north);
\draw[conn] (d5.south |- b5) -| (h15.north);
\draw[conn] (d6.south) -- (d6.south |- b6) -| (h16.north);
\draw[conn] (d6.south |- b6) -| (h17.north);
\draw[conn] (d6.south |- b6) -| (h18.north);
\end{tikzpicture}
\end{document}
